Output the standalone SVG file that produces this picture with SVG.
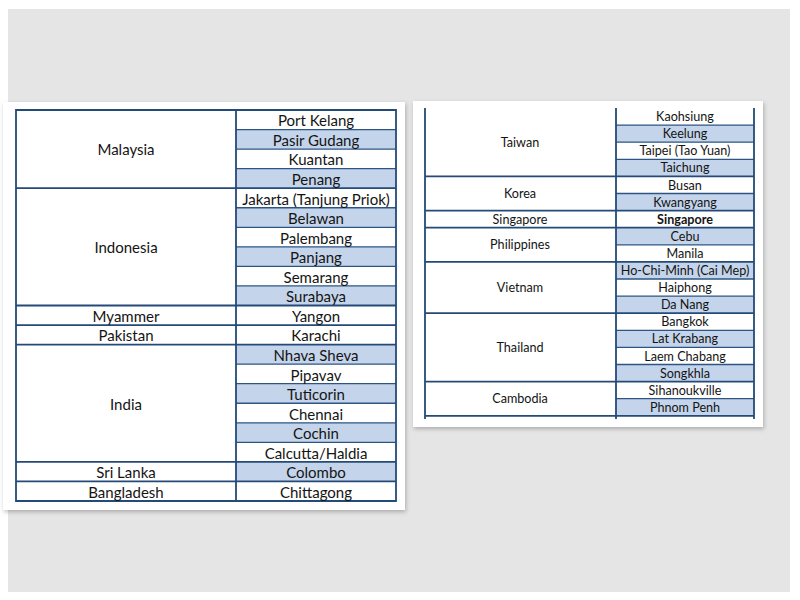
<svg xmlns="http://www.w3.org/2000/svg" width="800" height="600" viewBox="0 0 800 600">
<defs>
<filter id="sh" x="-5%" y="-5%" width="110%" height="110%">
<feDropShadow dx="1" dy="2" stdDeviation="2" flood-color="#000" flood-opacity="0.25"/>
</filter>
<style>
.card{fill:#ffffff;filter:url(#sh)}
.blue{fill:#c4d4eb}
.ln{stroke:#2c5583;stroke-width:1.3;fill:none}
.gl{stroke:#244b78;stroke-width:1.8;fill:none}
.t{font-family:Lato,"Open Sans","Liberation Sans",sans-serif;fill:#141414;text-anchor:middle}
.l{font-size:15px}
.r{font-size:12.6px}
.b{font-weight:bold}
</style>
</defs>
<rect x="0" y="0" width="800" height="600" fill="#ffffff"/>
<rect x="8" y="9" width="782" height="583" fill="#e5e5e5"/>

<rect class="card" x="3" y="102" width="402" height="408"/>
<rect class="card" x="413" y="101" width="350" height="326"/>

<g id="left-fills">
<rect class="blue" x="236" y="129.55" width="160" height="19.55"/>
<rect class="blue" x="236" y="168.65" width="160" height="19.55"/>
<rect class="blue" x="236" y="207.75" width="160" height="19.55"/>
<rect class="blue" x="236" y="246.85" width="160" height="19.55"/>
<rect class="blue" x="236" y="285.95" width="160" height="19.55"/>
<rect class="blue" x="236" y="344.6" width="160" height="19.55"/>
<rect class="blue" x="236" y="383.7" width="160" height="19.55"/>
<rect class="blue" x="236" y="422.8" width="160" height="19.55"/>
<rect class="blue" x="236" y="461.9" width="160" height="19.55"/>
</g>
<g id="right-fills">
<rect class="blue" x="616" y="125.1" width="138" height="17.1"/>
<rect class="blue" x="616" y="159.3" width="138" height="17.1"/>
<rect class="blue" x="616" y="193.5" width="138" height="17.1"/>
<rect class="blue" x="616" y="227.7" width="138" height="17.1"/>
<rect class="blue" x="616" y="261.9" width="138" height="17.1"/>
<rect class="blue" x="616" y="296.1" width="138" height="17.1"/>
<rect class="blue" x="616" y="330.3" width="138" height="17.1"/>
<rect class="blue" x="616" y="364.5" width="138" height="17.1"/>
<rect class="blue" x="616" y="398.7" width="138" height="17.1"/>
</g>

<g id="connectors">
<g id="left-grid">
<path class="ln" d="M236 129.55H396M236 149.1H396M236 168.65H396M236 207.75H396M236 227.3H396M236 246.85H396M236 266.4H396M236 285.95H396M236 364.15H396M236 383.7H396M236 403.25H396M236 422.8H396M236 442.35H396"/>
<path class="gl" d="M16 110H396M16 188.2H396M16 305.5H396M16 325.05H396M16 344.6H396M16 461.9H396M16 481.45H396M16 501H396M16 109V502M236 109V502M396 109V502"/>
</g>
<g id="right-grid">
<path class="ln" d="M616 125.1H754M616 142.2H754M616 159.3H754M616 193.5H754M616 244.8H754M616 279H754M616 296.1H754M616 330.3H754M616 347.4H754M616 364.5H754M616 398.7H754"/>
<path class="gl" d="M425 176.4H754M425 210.6H754M425 227.7H754M425 261.9H754M425 313.2H754M425 381.6H754M425 415.8H754M425 108V419M616 108V419M754 108V419"/>
</g>
</g>

<g id="malaysia">
<text class="t l" x="126" y="155.3">Malaysia</text>
<text class="t l" x="316" y="126.3">Port Kelang</text>
<text class="t l" x="316" y="145.8">Pasir Gudang</text>
<text class="t l" x="316" y="165.4">Kuantan</text>
<text class="t l" x="316" y="185">Penang</text>
</g>
<g id="indonesia">
<text class="t l" x="126" y="253.1">Indonesia</text>
<text class="t l" x="316" y="204.5">Jakarta (Tanjung Priok)</text>
<text class="t l" x="316" y="224.1">Belawan</text>
<text class="t l" x="316" y="243.6">Palembang</text>
<text class="t l" x="316" y="263.2">Panjang</text>
<text class="t l" x="316" y="282.7">Semarang</text>
<text class="t l" x="316" y="302.3">Surabaya</text>
</g>
<g id="myammer">
<text class="t l" x="126" y="321.6">Myammer</text>
<text class="t l" x="316" y="321.8">Yangon</text>
</g>
<g id="pakistan">
<text class="t l" x="126" y="341.1">Pakistan</text>
<text class="t l" x="316" y="341.4">Karachi</text>
</g>
<g id="india">
<text class="t l" x="126" y="409.5">India</text>
<text class="t l" x="316" y="360.9">Nhava Sheva</text>
<text class="t l" x="316" y="380.5">Pipavav</text>
<text class="t l" x="316" y="400">Tuticorin</text>
<text class="t l" x="316" y="419.6">Chennai</text>
<text class="t l" x="316" y="439.1">Cochin</text>
<text class="t l" x="316" y="458.7">Calcutta/Haldia</text>
</g>
<g id="srilanka">
<text class="t l" x="126" y="478">Sri Lanka</text>
<text class="t l" x="316" y="478.2">Colombo</text>
</g>
<g id="bangladesh">
<text class="t l" x="126" y="497.5">Bangladesh</text>
<text class="t l" x="316" y="497.8">Chittagong</text>
</g>

<g id="taiwan">
<text class="t r" x="520" y="146.8">Taiwan</text>
<text class="t r" x="685" y="121.1">Kaohsiung</text>
<text class="t r" x="685" y="138.2">Keelung</text>
<text class="t r" x="685" y="155.3">Taipei (Tao Yuan)</text>
<text class="t r" x="685" y="172.4">Taichung</text>
</g>
<g id="korea">
<text class="t r" x="520" y="198.1">Korea</text>
<text class="t r" x="685" y="189.5">Busan</text>
<text class="t r" x="685" y="206.6">Kwangyang</text>
</g>
<g id="singapore">
<text class="t r" x="520" y="223.7">Singapore</text>
<text class="t r b" x="685" y="223.7">Singapore</text>
</g>
<g id="philippines">
<text class="t r" x="520" y="249.4">Philippines</text>
<text class="t r" x="685" y="240.8">Cebu</text>
<text class="t r" x="685" y="257.9">Manila</text>
</g>
<g id="vietnam">
<text class="t r" x="520" y="292.1">Vietnam</text>
<text class="t r" x="685" y="275">Ho-Chi-Minh (Cai Mep)</text>
<text class="t r" x="685" y="292.1">Haiphong</text>
<text class="t r" x="685" y="309.2">Da Nang</text>
</g>
<g id="thailand">
<text class="t r" x="520" y="352">Thailand</text>
<text class="t r" x="685" y="326.3">Bangkok</text>
<text class="t r" x="685" y="343.4">Lat Krabang</text>
<text class="t r" x="685" y="360.5">Laem Chabang</text>
<text class="t r" x="685" y="377.6">Songkhla</text>
</g>
<g id="cambodia">
<text class="t r" x="520" y="403.3">Cambodia</text>
<text class="t r" x="685" y="394.7">Sihanoukville</text>
<text class="t r" x="685" y="411.8">Phnom Penh</text>
</g>
</svg>
